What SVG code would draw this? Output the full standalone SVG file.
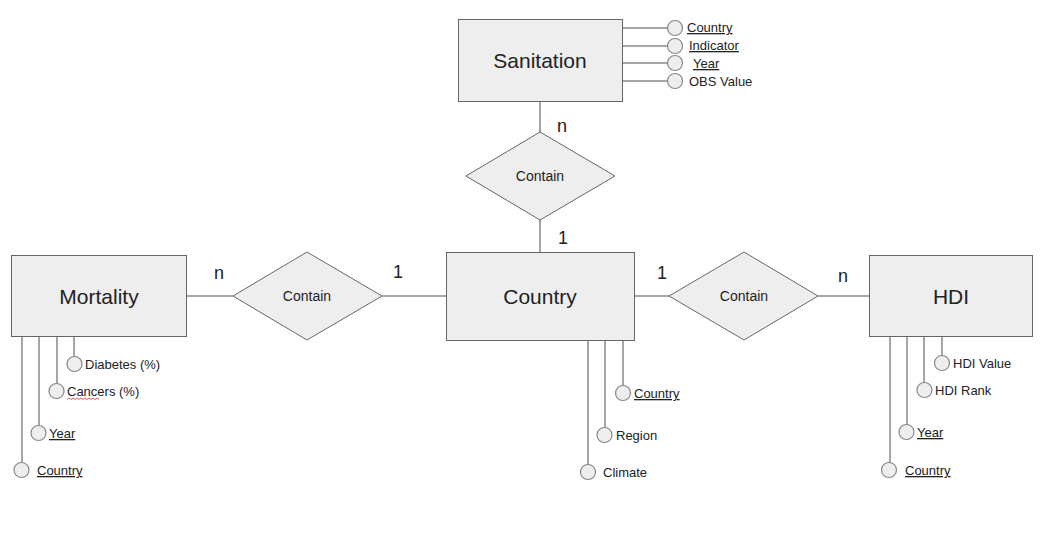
<svg xmlns="http://www.w3.org/2000/svg" width="1064" height="536" viewBox="0 0 1064 536">
<style>
.ent{fill:#eeeeee;stroke:#666666;stroke-width:1}
.rel{fill:#eeeeee;stroke:#666666;stroke-width:1}
.att{fill:#eeeeee;stroke:#888888;stroke-width:1.2}
.ln{stroke:#888888;stroke-width:1.5;fill:none}
text{font-family:"Liberation Sans",Arial,sans-serif;fill:#222222}
.et{font-size:21px;text-anchor:middle}
.rt{font-size:14px;text-anchor:middle}
.ct{font-size:18px;text-anchor:middle}
.at{font-size:13px}
.u{text-decoration:underline}
</style>
<rect width="1064" height="536" fill="#ffffff"/>
<g id="connectors">
<line class="ln" x1="540" y1="101" x2="540" y2="132"/>
<line class="ln" x1="540" y1="220" x2="540" y2="252"/>
<line class="ln" x1="186" y1="296" x2="233" y2="296"/>
<line class="ln" x1="382" y1="296" x2="446" y2="296"/>
<line class="ln" x1="634" y1="296" x2="669" y2="296"/>
<line class="ln" x1="818" y1="296" x2="869" y2="296"/>
<line class="ln" x1="622" y1="28" x2="667" y2="28"/>
<line class="ln" x1="622" y1="46" x2="667" y2="46"/>
<line class="ln" x1="622" y1="63" x2="667" y2="63"/>
<line class="ln" x1="622" y1="81" x2="667" y2="81"/>
<line class="ln" x1="74" y1="336" x2="74" y2="357"/>
<line class="ln" x1="57" y1="336" x2="57" y2="384"/>
<line class="ln" x1="39" y1="336" x2="39" y2="426"/>
<line class="ln" x1="22" y1="336" x2="22" y2="463"/>
<line class="ln" x1="623" y1="340" x2="623" y2="386"/>
<line class="ln" x1="605" y1="340" x2="605" y2="428"/>
<line class="ln" x1="588" y1="340" x2="588" y2="465"/>
<line class="ln" x1="942" y1="336" x2="942" y2="356"/>
<line class="ln" x1="924" y1="336" x2="924" y2="383"/>
<line class="ln" x1="907" y1="336" x2="907" y2="425"/>
<line class="ln" x1="890" y1="336" x2="890" y2="463"/>
</g>
<g id="sanitation">
<rect class="ent" x="458.5" y="19.5" width="164" height="82"/>
<text class="et" x="540" y="68">Sanitation</text>
</g>
<g id="country">
<rect class="ent" x="446.5" y="252.5" width="188" height="88"/>
<text class="et" x="540" y="304">Country</text>
</g>
<g id="mortality">
<rect class="ent" x="11.5" y="255.5" width="175" height="81"/>
<text class="et" x="99" y="304">Mortality</text>
</g>
<g id="hdi">
<rect class="ent" x="869.5" y="255.5" width="163" height="81"/>
<text class="et" x="951" y="304">HDI</text>
</g>
<g id="rel-top">
<polygon class="rel" points="540,132 615,176 540,220 466,176"/>
<text class="rt" x="540" y="181">Contain</text>
<text class="ct" x="562" y="132">n</text>
<text class="ct" x="563" y="244">1</text>
</g>
<g id="rel-left">
<polygon class="rel" points="307,252 382,296 307,340 233,296"/>
<text class="rt" x="307" y="301">Contain</text>
<text class="ct" x="219" y="279">n</text>
<text class="ct" x="398" y="278">1</text>
</g>
<g id="rel-right">
<polygon class="rel" points="744,252 818,296 744,340 669,296"/>
<text class="rt" x="744" y="301">Contain</text>
<text class="ct" x="662" y="279">1</text>
<text class="ct" x="843" y="282">n</text>
</g>
<g id="sanitation-attrs">
<circle class="att" cx="675" cy="28" r="7.5"/>
<text class="at u" x="687" y="32">Country</text>
<circle class="att" cx="675" cy="46" r="7.5"/>
<text class="at u" x="689" y="50">Indicator</text>
<circle class="att" cx="675" cy="63" r="7.5"/>
<text class="at u" x="693" y="68">Year</text>
<circle class="att" cx="675" cy="81" r="7.5"/>
<text class="at" x="689" y="86">OBS Value</text>
</g>
<g id="mortality-attrs">
<circle class="att" cx="74.5" cy="364" r="7.5"/>
<text class="at" x="85" y="369">Diabetes (%)</text>
<circle class="att" cx="56.5" cy="391" r="7.5"/>
<text class="at" x="67" y="396">Cancers (%)</text>
<path d="M67,399.5 l2,-1.5 l2,1.5 l2,-1.5 l2,1.5 l2,-1.5 l2,1.5 l2,-1.5 l2,1.5 l2,-1.5 l2,1.5 l2,-1.5 l2,1.5 l2,-1.5 l2,1.5 l2,-1.5 l2,1.5" fill="none" stroke="#e03030" stroke-width="0.8"/>
<circle class="att" cx="38.5" cy="433" r="7.5"/>
<text class="at u" x="49" y="438">Year</text>
<circle class="att" cx="21.5" cy="470" r="7.5"/>
<text class="at u" x="37" y="475">Country</text>
</g>
<g id="country-attrs">
<circle class="att" cx="623" cy="393" r="7.5"/>
<text class="at u" x="634" y="398">Country</text>
<circle class="att" cx="604.5" cy="435" r="7.5"/>
<text class="at" x="616" y="440">Region</text>
<circle class="att" cx="588" cy="472" r="7.5"/>
<text class="at" x="603" y="477">Climate</text>
</g>
<g id="hdi-attrs">
<circle class="att" cx="942" cy="363" r="7.5"/>
<text class="at" x="953" y="368">HDI Value</text>
<circle class="att" cx="924.5" cy="390" r="7.5"/>
<text class="at" x="935" y="395">HDI Rank</text>
<circle class="att" cx="906.5" cy="432" r="7.5"/>
<text class="at u" x="917" y="437">Year</text>
<circle class="att" cx="889" cy="470" r="7.5"/>
<text class="at u" x="905" y="475">Country</text>
</g>
</svg>
